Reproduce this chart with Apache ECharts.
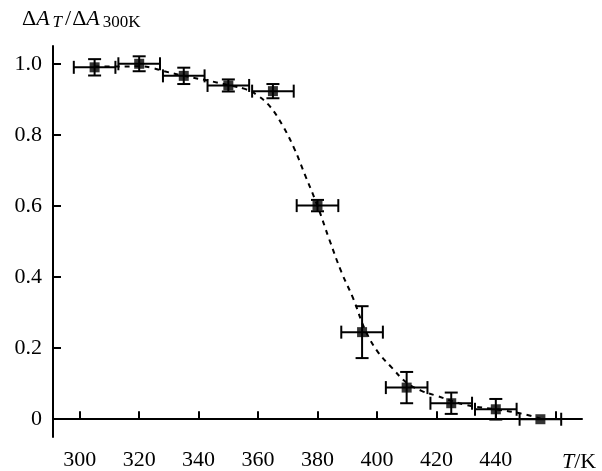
<!DOCTYPE html>
<html>
<head>
<meta charset="utf-8">
<script src="https://cdn.jsdelivr.net/npm/echarts@6/dist/echarts.min.js"></script>
<style>html,body{margin:0;padding:0;background:#fff}#c{width:602px;height:471px}</style>
</head>
<body>
<div id="c"></div>
<script>
// Measured points
const temps = [305, 320, 335, 350, 365, 380, 395, 410, 425, 440, 455];
const ratio = [0.990, 1.000, 0.966, 0.939, 0.923, 0.601, 0.245, 0.089, 0.045, 0.028, 0.000];
const tempErr = [7, 7, 7, 7, 7, 7, 7, 7, 7, 7, 7];
const ratioErr = [0.023, 0.021, 0.023, 0.017, 0.020, 0.016, 0.073, 0.044, 0.030, 0.029, 0];
// Dashed fitted curve
const fitT = [305, 313, 320, 324, 328, 335, 343, 350, 356, 360, 364, 368, 372, 376, 380, 384, 388, 392, 396, 400, 405, 410, 415, 420, 430, 440, 448, 455];
const fitY = [0.992, 0.992, 0.993, 0.989, 0.980, 0.966, 0.953, 0.940, 0.928, 0.910, 0.880, 0.830, 0.765, 0.683, 0.600, 0.505, 0.415, 0.340, 0.252, 0.193, 0.145, 0.103, 0.080, 0.066, 0.040, 0.028, 0.017, 0.002];
const xTicks = [300, 320, 340, 360, 380, 400, 420, 440, 460];
const xLabels = [300, 320, 340, 360, 380, 400, 420, 440];
const yTicks = [0, 0.2, 0.4, 0.6, 0.8, 1.0];

const pts = temps.map((t, i) => [t, ratio[i]]);
const errData = temps.map((t, i) => [t, ratio[i], tempErr[i], ratioErr[i]]);
const fitData = fitT.map((t, i) => [t, fitY[i]]);

const FONT = 'Liberation Serif';
const chart = echarts.init(document.getElementById('c'), null, {renderer: 'canvas'});
const axisLine = {show: true, lineStyle: {color: '#000', width: 2}};
const tick = vals => ({show: true, inside: true, length: 8, customValues: vals, lineStyle: {color: '#000', width: 2}});
chart.setOption({
  animation: false,
  backgroundColor: '#fff',
  grid: {left: 53, top: 46, right: 20, bottom: 32, containLabel: false},
  xAxis: {
    type: 'value', min: 291, max: 469,
    axisLine: axisLine, axisTick: tick(xTicks), splitLine: {show: false},
    axisLabel: {customValues: xLabels, color: '#000', fontFamily: FONT, fontSize: 22, margin: 12},
  },
  yAxis: {
    type: 'value', min: -0.05, max: 1.05,
    axisLine: axisLine, axisTick: tick(yTicks), splitLine: {show: false},
    axisLabel: {customValues: yTicks, color: '#000', fontFamily: FONT, fontSize: 22, margin: 11,
      formatter: v => v === 0 ? '0' : v.toFixed(1)},
  },
  series: [
    {
      type: 'line', data: fitData, smooth: 0.4, showSymbol: false, z: 1,
      lineStyle: {color: '#000', width: 2, type: [5, 5]}
    },
    {
      type: 'custom', data: errData, z: 2,
      renderItem: function (params, api) {
        const x = api.value(0), y = api.value(1), dx = api.value(2), dy = api.value(3);
        const c = api.coord([x, y]);
        const l = api.coord([x - dx, y]), r = api.coord([x + dx, y]);
        const cap = 6.5;
        const st = {stroke: '#000', lineWidth: 2, fill: null};
        const children = [
          {type: 'line', shape: {x1: l[0], y1: c[1], x2: r[0], y2: c[1]}, style: st},
          {type: 'line', shape: {x1: l[0], y1: c[1] - cap, x2: l[0], y2: c[1] + cap}, style: st},
          {type: 'line', shape: {x1: r[0], y1: c[1] - cap, x2: r[0], y2: c[1] + cap}, style: st},
        ];
        if (dy > 0) {
          const t = api.coord([x, y + dy]), b = api.coord([x, y - dy]);
          children.push(
            {type: 'line', shape: {x1: c[0], y1: t[1], x2: c[0], y2: b[1]}, style: st},
            {type: 'line', shape: {x1: c[0] - cap, y1: t[1], x2: c[0] + cap, y2: t[1]}, style: st},
            {type: 'line', shape: {x1: c[0] - cap, y1: b[1], x2: c[0] + cap, y2: b[1]}, style: st}
          );
        }
        return {type: 'group', children: children};
      }
    },
    {
      type: 'scatter', data: pts, symbol: 'rect', symbolSize: 10, z: 3,
      itemStyle: {color: '#000'}
    }
  ],
  graphic: [
    {
      type: 'text', left: 22, top: 8,
      style: {
        rich: {
          n: {fontFamily: FONT, fontSize: 22, fill: '#000'},
          i: {fontFamily: FONT, fontSize: 22, fontStyle: 'italic', fill: '#000', padding: [0, 2, 0, 0]},
          si: {fontFamily: FONT, fontSize: 17, fontStyle: 'italic', fill: '#000', verticalAlign: 'bottom', padding: [8, 3, 0, 1]},
          sl: {fontFamily: FONT, fontSize: 22, fill: '#000', padding: [0, 1, 0, 0]},
          s: {fontFamily: FONT, fontSize: 17, fill: '#000', verticalAlign: 'bottom', padding: [8, 0, 0, 1]}
        },
        text: '{n|Δ}{i|A}{si|T}{sl|/}{n|Δ}{i|A}{s|300K}'
      }
    },
    {
      type: 'text', left: 562, top: 451,
      style: {
        rich: {
          n: {fontFamily: FONT, fontSize: 22, fill: '#000'},
          i: {fontFamily: FONT, fontSize: 22, fontStyle: 'italic', fill: '#000'}
        },
        text: '{i|T}{n|/K}'
      }
    }
  ]
});
</script>
</body>
</html>
